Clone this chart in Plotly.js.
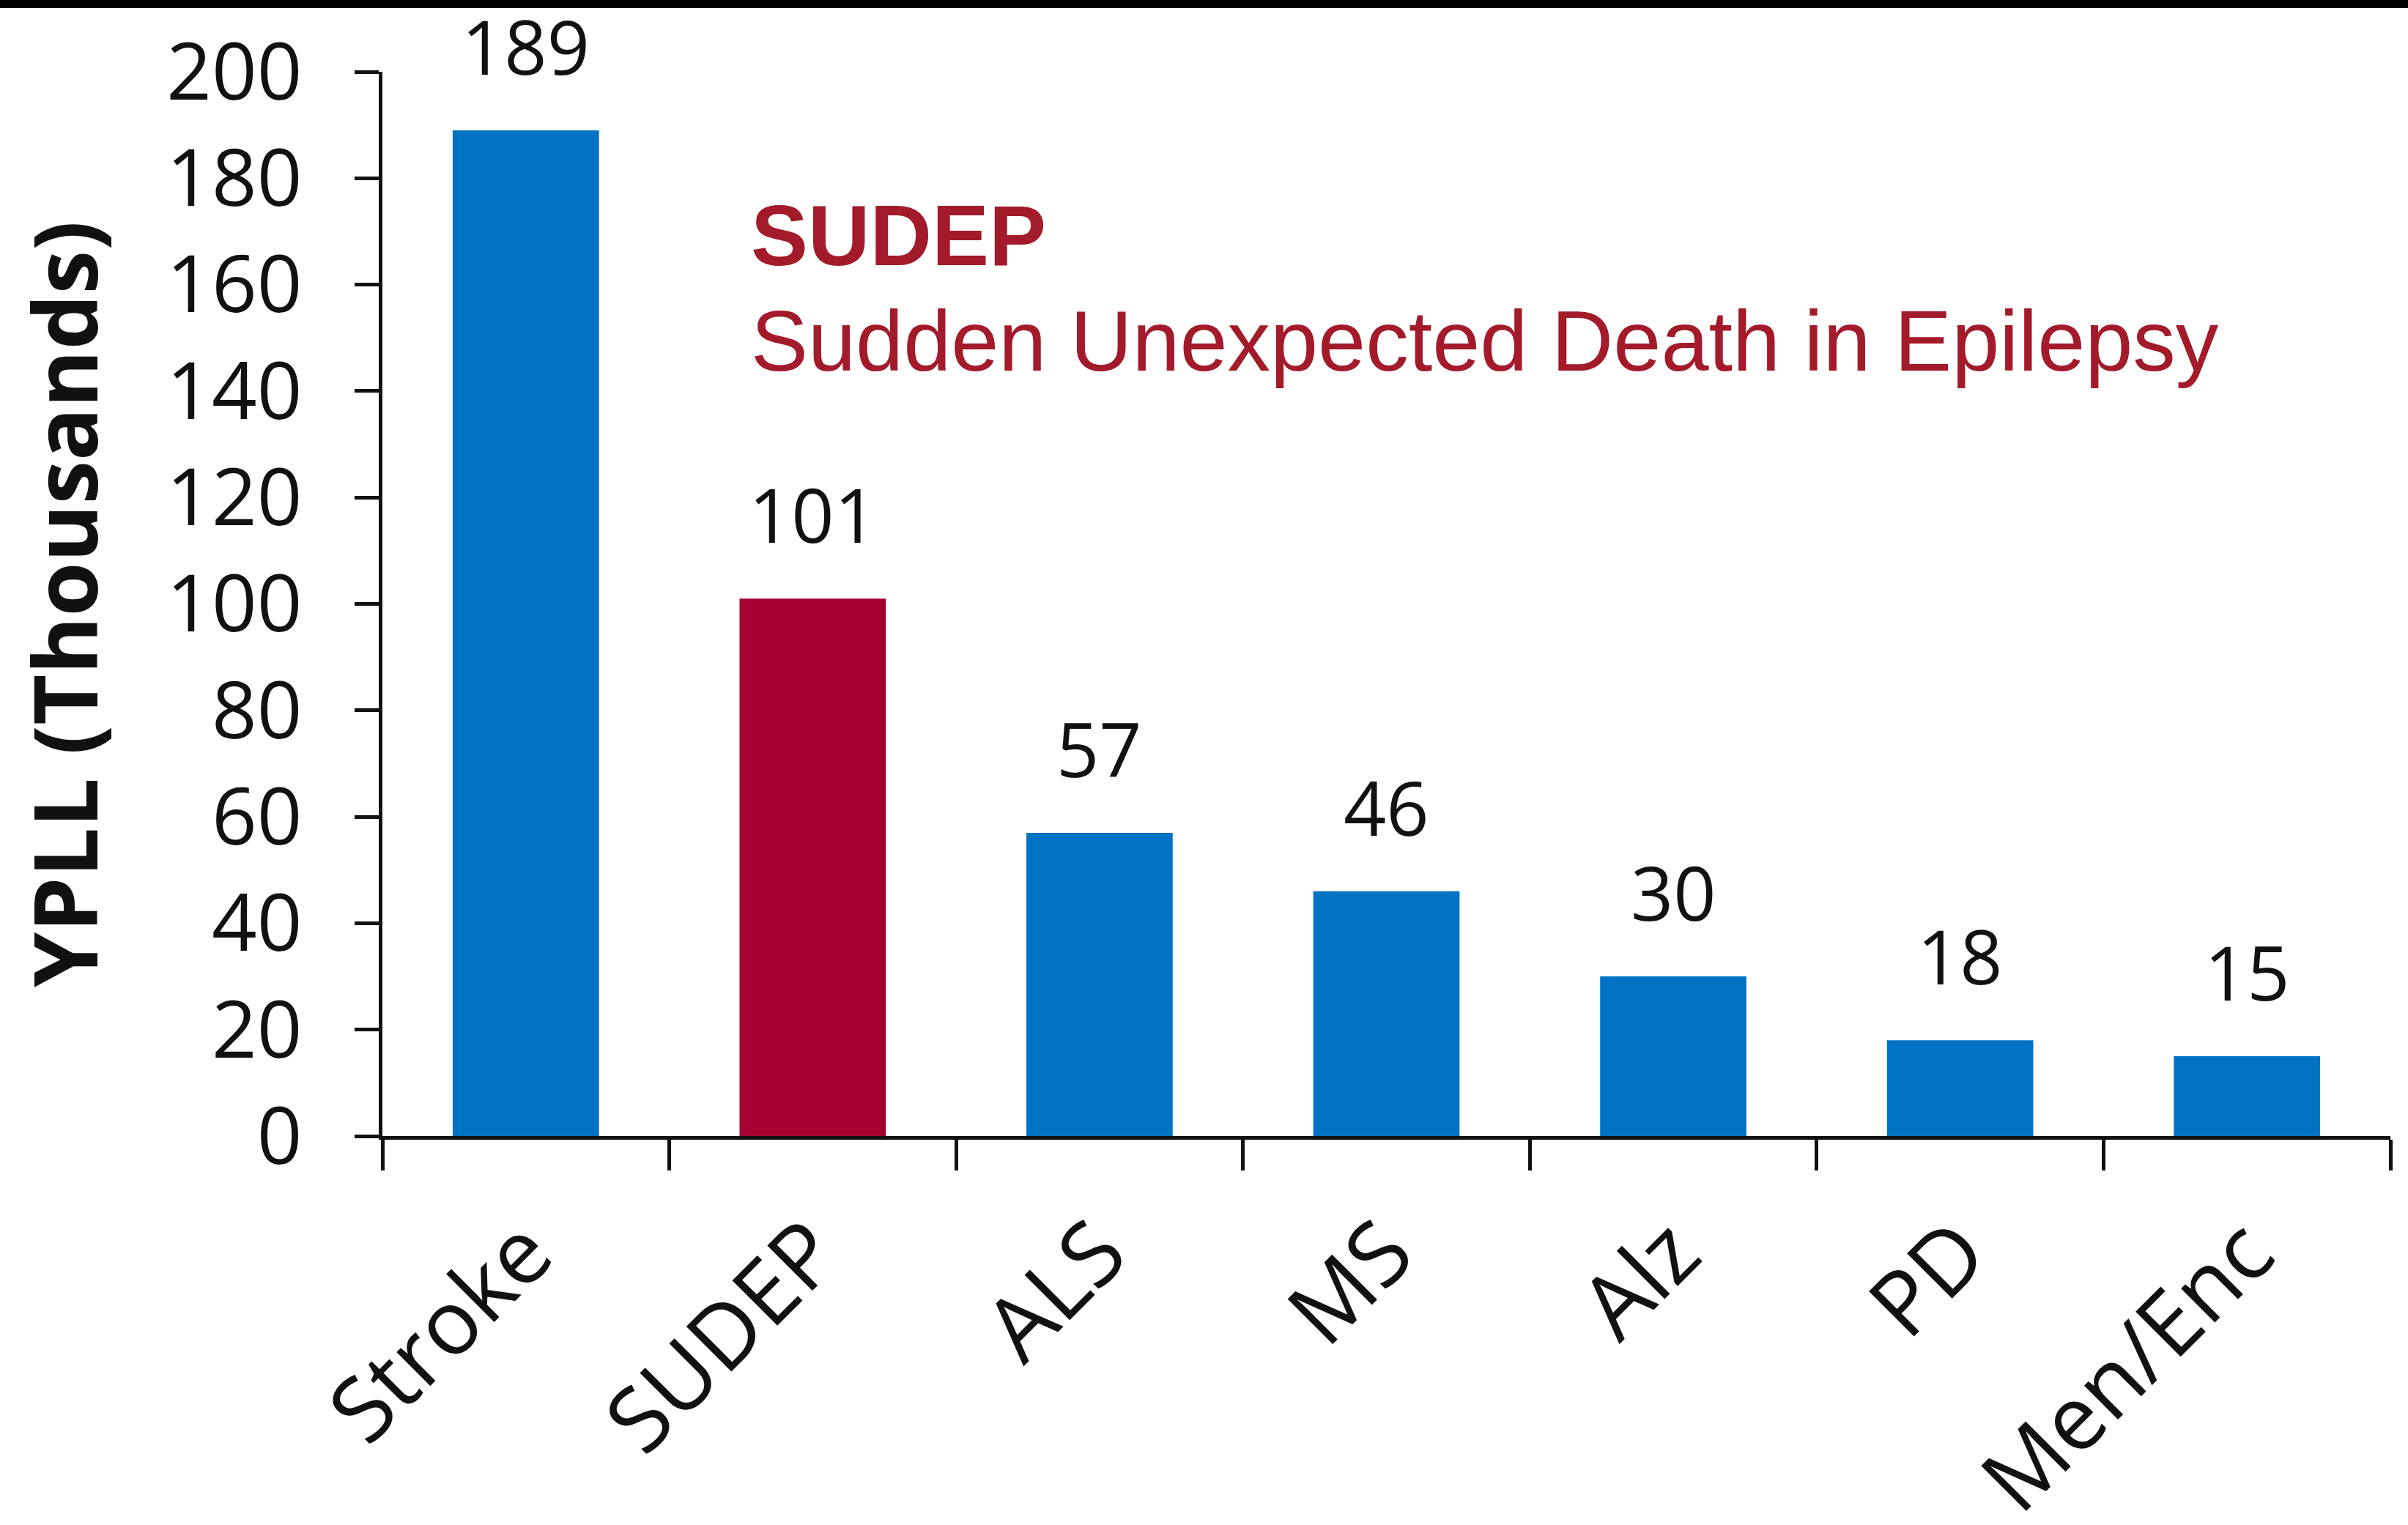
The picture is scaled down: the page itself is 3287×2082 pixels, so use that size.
<!DOCTYPE html>
<html>
<head>
<meta charset="utf-8">
<script src="https://cdn.plot.ly/plotly-3.0.1.min.js"></script>
<style>
html,body{margin:0;padding:0;background:#fff;}
#chart{width:3287px;height:2082px;}
</style>
</head>
<body>
<div id="chart"></div>
<script>
// Data
const categories = ["Stroke", "SUDEP", "ALS", "MS", "Alz", "PD", "Men/Enc"];
const ypll = [189, 101, 57, 46, 30, 18, 15];
const highlight = "SUDEP";
const yTickVals = [0, 20, 40, 60, 80, 100, 120, 140, 160, 180, 200];
const yTitle = "YPLL (Thousands)";
const noteTitle = "SUDEP";
const noteText = "Sudden Unexpected Death in Epilepsy";

const BLUE = "#0072C4";
const RED = "#A50032";
const NOTE_RED = "#A31A2A";
const FONT = "Open Sans, Noto Sans, sans-serif";

const barColors = categories.map(c => c === highlight ? RED : BLUE);

const trace = {
  type: "bar",
  x: categories,
  y: ypll,
  marker: {color: barColors, line: {width: 0}},
  hoverinfo: "x+y",
  showlegend: false
};

const valueLabels = categories.map((c, i) => ({
  x: c, y: ypll[i], xref: "x", yref: "y",
  text: String(ypll[i]),
  showarrow: false,
  yanchor: "bottom",
  yshift: 44,
  font: {family: FONT, size: 102, color: "#111"}
}));

const layout = {
  width: 3287,
  height: 2082,
  paper_bgcolor: "#fff",
  plot_bgcolor: "#fff",
  margin: {l: 522, r: 24, t: 98, b: 531, pad: 0},
  bargap: 0.49,
  showlegend: false,
  xaxis: {
    type: "category",
    tickson: "boundaries",
    ticks: "outside",
    ticklen: 42,
    tickwidth: 5,
    tickcolor: "#111",
    showline: true,
    linewidth: 5,
    linecolor: "#111",
    showgrid: false,
    zeroline: false,
    tickangle: -45,
    ticklabelstandoff: 34,
    tickfont: {family: FONT, size: 122, color: "#111"},
    automargin: false
  },
  yaxis: {
    range: [0, 200],
    tickvals: yTickVals,
    ticks: "outside",
    ticklen: 33,
    tickwidth: 5,
    tickcolor: "#111",
    showline: true,
    linewidth: 5,
    linecolor: "#111",
    showgrid: false,
    zeroline: false,
    ticklabelstandoff: 50,
    tickfont: {family: FONT, size: 108, color: "#111"},
    title: {text: yTitle, standoff: 55, font: {family: FONT, size: 120, color: "#111", weight: "bold"}},
    automargin: false
  },
  annotations: valueLabels.concat([
    {
      xref: "paper", yref: "paper",
      x: 0.1828, y: (1551 - 321) / 1453,
      xanchor: "left", yanchor: "middle",
      text: "<b>" + noteTitle + "</b>",
      showarrow: false,
      font: {family: "Liberation Sans, Arial, sans-serif", size: 117, color: NOTE_RED}
    },
    {
      xref: "paper", yref: "paper",
      x: 0.1828, y: (1551 - 465) / 1453,
      xanchor: "left", yanchor: "middle",
      text: noteText,
      showarrow: false,
      font: {family: "Liberation Sans, Arial, sans-serif", size: 117, color: NOTE_RED}
    }
  ]),
  shapes: [
    {
      type: "rect", xref: "paper", yref: "paper",
      x0: -522 / 2741, x1: (3287 - 522) / 2741,
      y0: (1551 - 11) / 1453, y1: 1551 / 1453 + 0.01,
      fillcolor: "#000", line: {width: 0}, layer: "above"
    }
  ]
};

Plotly.newPlot("chart", [trace], layout, {displayModeBar: false, staticPlot: true});
</script>
</body>
</html>
